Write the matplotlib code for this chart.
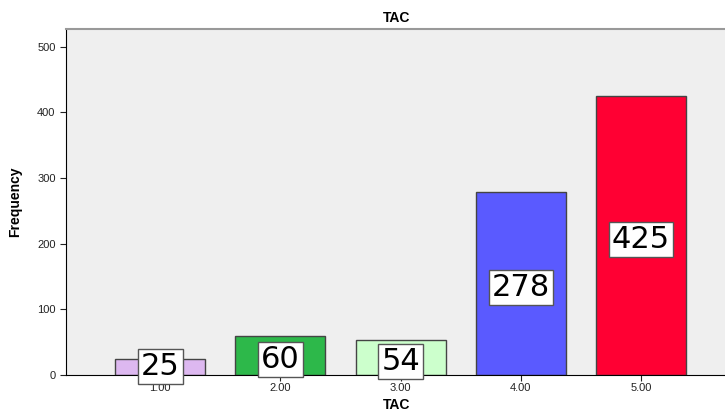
import matplotlib
matplotlib.use("Agg")
import matplotlib.pyplot as plt

categories = ["1.00", "2.00", "3.00", "4.00", "5.00"]
positions = [1, 2, 3, 4, 5]
frequencies = [25, 60, 54, 278, 425]
colors = ["#DDB8F0", "#2DB84A", "#CCFFCC", "#5A5AFF", "#FF0033"]
yticks = [0, 100, 200, 300, 400, 500]

plt.rcParams['font.family'] = ['Liberation Sans', 'DejaVu Sans']

fig = plt.figure(figsize=(7.25, 4.11), dpi=100)
ax = fig.add_axes([66/725, 36/411, 1 - 66/725 + 0.002, (375-29)/411])
ax.set_facecolor("#EFEFEF")

bars = ax.bar(positions, frequencies, width=0.75, color=colors,
              edgecolor="#444444", linewidth=1.0, zorder=2)

for x, v in zip(positions, frequencies):
    ax.text(x, max(v / 2 - 6, 13), str(v),
            ha="center", va="center", fontsize=22, family="DejaVu Sans",
            color="black", zorder=3,
            bbox=dict(boxstyle="square,pad=0.1", facecolor="white",
                      edgecolor="#555555", linewidth=1.0))

ax.set_xlim(0.217, 5.71)
ax.set_ylim(0, 527)
ax.set_xticks(positions)
ax.set_xticklabels(categories)
ax.set_yticks(yticks)
ax.tick_params(axis="both", labelsize=8, colors="#222222", length=4, width=0.8)
ax.tick_params(axis="x", pad=2)

ax.spines["right"].set_visible(False)
ax.spines["top"].set_color("#999999")
ax.spines["top"].set_linewidth(1.5)
ax.spines["left"].set_color("black")
ax.spines["bottom"].set_color("black")

ax.set_title("TAC", fontsize=10, fontweight="bold", pad=5)
ax.set_xlabel("TAC", fontsize=10, fontweight="bold", labelpad=3)
ax.set_ylabel("Frequency", fontsize=10, fontweight="bold", labelpad=11)

fig.savefig("out.png", dpi=100)
